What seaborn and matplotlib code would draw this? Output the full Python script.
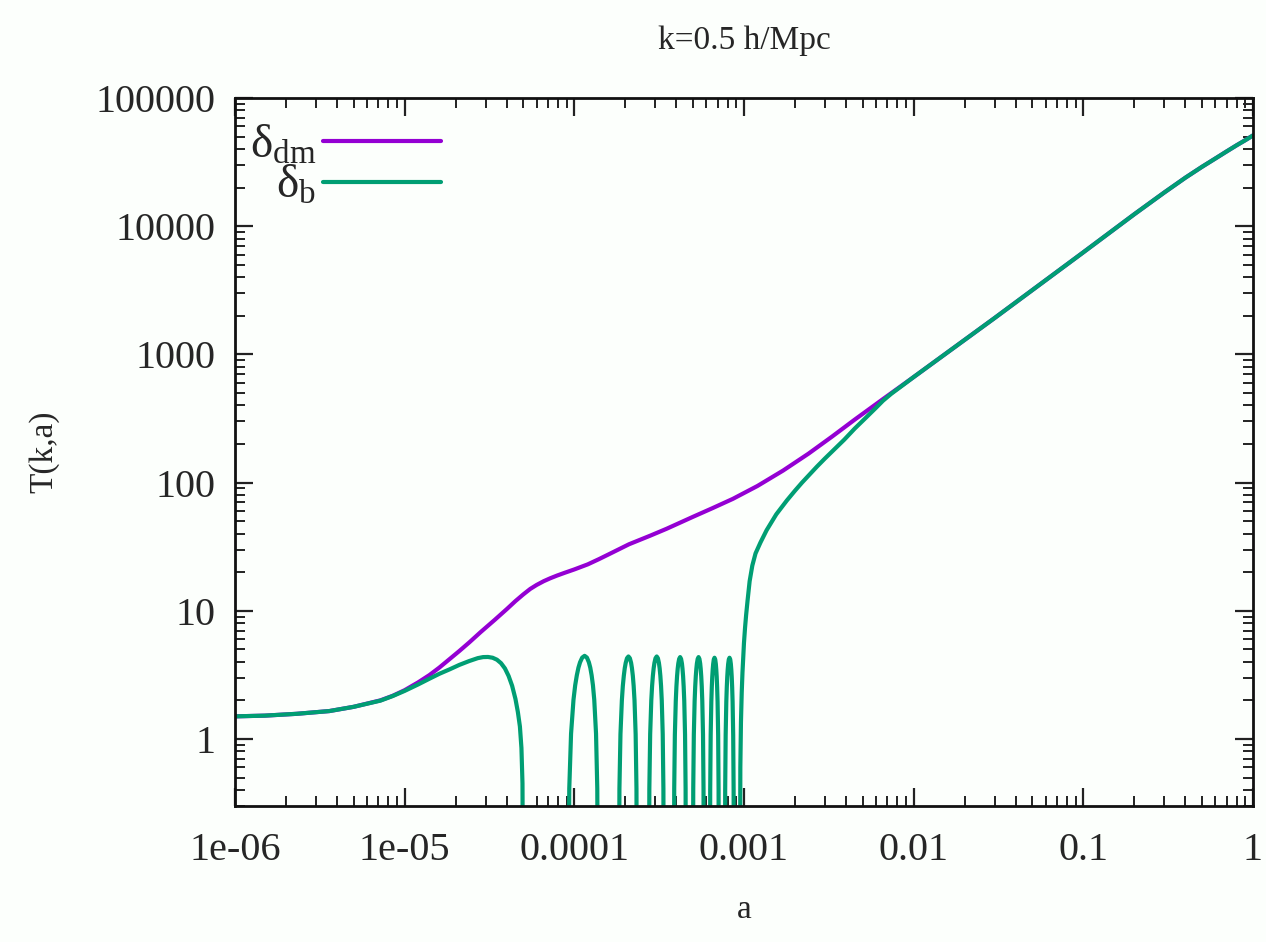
import numpy as np
import pandas as pd
import matplotlib
matplotlib.use("Agg")
import matplotlib.pyplot as plt
import seaborn as sns
from matplotlib.ticker import FixedLocator, FixedFormatter, LogLocator, NullFormatter

# ---------------- data ----------------
title = "k=0.5 h/Mpc"
x_label = "a"
y_label = "T(k,a)"
labels = [r"$\delta_{\rm dm}$", r"$\delta_{\rm b}$"]

x_ticks = [1e-6, 1e-5, 1e-4, 1e-3, 1e-2, 1e-1, 1.0]
x_tick_labels = ["1e-06", "1e-05", "0.0001", "0.001", "0.01", "0.1", "1"]
y_ticks = [1, 10, 100, 1000, 10000, 100000]
y_tick_labels = ["1", "10", "100", "1000", "10000", "100000"]

# dark matter
a_dm = [1e-6, 1.5e-6, 2.3e-6, 3.6e-6, 5e-6, 7.2e-6, 8.5e-6, 1.0e-5, 1.2e-5, 1.4e-5,
        1.6e-5, 1.85e-5, 2.1e-5, 2.4e-5, 2.8e-5, 3.4e-5, 4.0e-5, 4.5e-5, 5.0e-5, 5.5e-5,
        6.0e-5, 6.6e-5, 7.2e-5, 7.9e-5, 8.8e-5, 1.0e-4, 1.2e-4, 1.4e-4, 1.6e-4, 2.1e-4,
        2.8e-4, 3.5e-4, 5e-4, 6.5e-4, 8.6e-4, 1.2e-3, 1.7e-3, 2.4e-3, 3.3e-3, 4.5e-3,
        6.6e-3, 1e-2, 3e-2, 0.1, 0.2, 0.3, 0.4, 0.5, 0.6, 0.7, 0.8, 0.9, 1.0]
T_dm = [1.50, 1.52, 1.57, 1.65, 1.78, 2.0, 2.17, 2.4, 2.76, 3.15,
        3.6, 4.22, 4.85, 5.65, 6.8, 8.5, 10.3, 11.9, 13.4, 14.8,
        15.9, 17.0, 17.9, 18.8, 19.8, 21.0, 23.0, 25.3, 27.6, 33.0,
        38.5, 43.6, 54, 63, 74.6, 94, 124, 168, 228, 310,
        448, 665, 1920, 6250, 12400, 18300, 23900, 29000, 33700, 38300, 42700, 46800, 51000]

# baryons: early hump
a_b0 = [1e-6, 1.5e-6, 2.3e-6, 3.6e-6, 5e-6, 7.2e-6, 8.5e-6, 1.0e-5, 1.2e-5, 1.4e-5,
        1.6e-5, 1.85e-5, 2.1e-5, 2.4e-5, 2.7e-5, 2.9e-5, 3.1e-5, 3.3e-5, 3.5e-5, 3.7e-5,
        3.9e-5, 4.1e-5, 4.3e-5, 4.5e-5, 4.65e-5, 4.78e-5, 4.88e-5, 4.95e-5, 5.0e-5]
T_b0 = [1.50, 1.52, 1.57, 1.65, 1.78, 1.99, 2.16, 2.37, 2.66, 2.95,
        3.22, 3.5, 3.78, 4.05, 4.27, 4.35, 4.36, 4.3, 4.15, 3.9,
        3.55, 3.1, 2.6, 2.05, 1.62, 1.25, 0.85, 0.45, 0.02]

# baryons: acoustic oscillation arches (positive half-cycles)
a_b1 = [9.2e-5, 9.34e-5, 9.57e-5, 9.89e-5, 1.012e-4, 1.035e-4, 1.058e-4, 1.081e-4, 1.113e-4, 1.15e-4,
        1.187e-4, 1.219e-4, 1.242e-4, 1.265e-4, 1.288e-4, 1.311e-4, 1.343e-4, 1.366e-4, 1.38e-4]
T_b1 = [0.02, 0.41, 1.10, 2.02, 2.62, 3.14, 3.60, 3.96, 4.31, 4.45,
        4.31, 3.96, 3.60, 3.14, 2.62, 2.02, 1.10, 0.41, 0.02]
a_b2 = [1.83e-4, 1.845e-4, 1.871e-4, 1.907e-4, 1.932e-4, 1.958e-4, 1.983e-4, 2.009e-4, 2.044e-4, 2.085e-4,
        2.126e-4, 2.162e-4, 2.187e-4, 2.213e-4, 2.238e-4, 2.264e-4, 2.299e-4, 2.325e-4, 2.34e-4]
T_b2 = [0.02, 0.41, 1.09, 2.0, 2.59, 3.11, 3.56, 3.92, 4.26, 4.4,
        4.26, 3.92, 3.56, 3.11, 2.59, 2.0, 1.09, 0.41, 0.02]
a_b3 = [2.75e-4, 2.769e-4, 2.8e-4, 2.843e-4, 2.874e-4, 2.905e-4, 2.936e-4, 2.967e-4, 3.01e-4, 3.06e-4,
        3.11e-4, 3.153e-4, 3.184e-4, 3.215e-4, 3.246e-4, 3.277e-4, 3.32e-4, 3.351e-4, 3.37e-4]
T_b3 = [0.02, 0.41, 1.09, 2.0, 2.59, 3.11, 3.56, 3.92, 4.26, 4.4,
        4.26, 3.92, 3.56, 3.11, 2.59, 2.0, 1.09, 0.41, 0.02]
a_b4 = [3.86e-4, 3.881e-4, 3.915e-4, 3.964e-4, 3.998e-4, 4.033e-4, 4.067e-4, 4.102e-4, 4.15e-4, 4.205e-4,
        4.26e-4, 4.309e-4, 4.343e-4, 4.378e-4, 4.412e-4, 4.447e-4, 4.495e-4, 4.529e-4, 4.55e-4]
T_b4 = [0.02, 0.41, 1.08, 1.98, 2.56, 3.08, 3.52, 3.88, 4.21, 4.35,
        4.21, 3.88, 3.52, 3.08, 2.56, 1.98, 1.08, 0.41, 0.02]
a_b5 = [5.0e-4, 5.024e-4, 5.064e-4, 5.12e-4, 5.16e-4, 5.2e-4, 5.24e-4, 5.28e-4, 5.336e-4, 5.4e-4,
        5.464e-4, 5.52e-4, 5.56e-4, 5.6e-4, 5.64e-4, 5.68e-4, 5.736e-4, 5.776e-4, 5.8e-4]
T_b5 = [0.02, 0.41, 1.08, 1.98, 2.56, 3.08, 3.52, 3.88, 4.21, 4.35,
        4.21, 3.88, 3.52, 3.08, 2.56, 1.98, 1.08, 0.41, 0.02]
a_b6 = [6.3e-4, 6.324e-4, 6.365e-4, 6.422e-4, 6.462e-4, 6.503e-4, 6.543e-4, 6.584e-4, 6.64e-4, 6.705e-4,
        6.77e-4, 6.827e-4, 6.867e-4, 6.908e-4, 6.948e-4, 6.989e-4, 7.045e-4, 7.086e-4, 7.11e-4]
T_b6 = [0.02, 0.40, 1.07, 1.96, 2.53, 3.05, 3.48, 3.84, 4.17, 4.3,
        4.17, 3.84, 3.48, 3.05, 2.53, 1.96, 1.07, 0.40, 0.02]
a_b7 = [7.72e-4, 7.75e-4, 7.8e-4, 7.87e-4, 7.92e-4, 7.97e-4, 8.02e-4, 8.07e-4, 8.14e-4, 8.22e-4,
        8.3e-4, 8.37e-4, 8.42e-4, 8.47e-4, 8.52e-4, 8.57e-4, 8.64e-4, 8.69e-4, 8.72e-4]
T_b7 = [0.02, 0.40, 1.07, 1.96, 2.53, 3.05, 3.48, 3.84, 4.17, 4.3,
        4.17, 3.84, 3.48, 3.05, 2.53, 1.96, 1.07, 0.40, 0.02]

# baryons: after decoupling, catching up with dark matter
a_b8 = [9.46e-4, 9.52e-4, 9.6e-4, 9.7e-4, 9.8e-4, 9.9e-4, 1.0e-3, 1.015e-3, 1.03e-3, 1.05e-3,
        1.08e-3, 1.12e-3, 1.17e-3, 1.25e-3, 1.36e-3, 1.55e-3, 1.79e-3, 2.0e-3, 2.2e-3, 2.69e-3,
        3.0e-3, 3.4e-3, 3.9e-3, 4.5e-3, 5.2e-3, 6.0e-3, 6.6e-3, 7.4e-3, 8.5e-3, 1e-2,
        3e-2, 0.1, 0.2, 0.3, 0.4, 0.5, 0.6, 0.7, 0.8, 0.9, 1.0]
T_b8 = [0.02, 0.6, 1.35, 2.3, 3.3, 4.3, 5.6, 7.4, 9.3, 12.0,
        17.0, 22.5, 28, 34, 42.5, 56.5, 72.5, 86.5, 100, 133,
        154, 181, 216, 264, 318, 383, 435, 494, 566, 665,
        1920, 6250, 12400, 18300, 23900, 29000, 33700, 38300, 42700, 46800, 51000]

baryon_segments = [(a_b0, T_b0), (a_b1, T_b1), (a_b2, T_b2), (a_b3, T_b3), (a_b4, T_b4),
                   (a_b5, T_b5), (a_b6, T_b6), (a_b7, T_b7), (a_b8, T_b8)]

# ---------------- style ----------------
sns.set_theme(style="ticks")
plt.rcParams["font.family"] = ["Liberation Serif", "DejaVu Serif"]
plt.rcParams["mathtext.fontset"] = "custom"
plt.rcParams["mathtext.rm"] = "Liberation Serif"
plt.rcParams["mathtext.it"] = "Liberation Serif:italic"
plt.rcParams["mathtext.default"] = "regular"

purple = "#9400d3"
green = "#009e73"
lw = 3.0
bg = "#fcfffc"

fig = plt.figure(figsize=(12.66, 9.42), dpi=100, facecolor=bg)
ax = fig.add_axes([0.1856, 0.1444, 0.8041, 0.7516])
ax.set_facecolor(bg)
ax.set_xscale("log")
ax.set_yscale("log")

sns.lineplot(x=a_dm, y=T_dm, color=purple, lw=lw, ax=ax, estimator=None, sort=False,
             label=labels[0])
for i, (xa, yt) in enumerate(baryon_segments):
    sns.lineplot(x=xa, y=yt, color=green, lw=lw, ax=ax, estimator=None, sort=False,
                 label=labels[1] if i == 0 else None)

ax.set_xlim(1e-6, 1.0)
ax.set_ylim(0.3, 100000)

ax.xaxis.set_major_locator(FixedLocator(x_ticks))
ax.xaxis.set_major_formatter(FixedFormatter(x_tick_labels))
ax.yaxis.set_major_locator(FixedLocator(y_ticks))
ax.yaxis.set_major_formatter(FixedFormatter(y_tick_labels))
ax.xaxis.set_minor_locator(LogLocator(base=10, subs=np.arange(2, 10), numticks=20))
ax.yaxis.set_minor_locator(LogLocator(base=10, subs=np.arange(2, 10), numticks=20))
ax.xaxis.set_minor_formatter(NullFormatter())
ax.yaxis.set_minor_formatter(NullFormatter())

ax.tick_params(which="both", direction="in", top=True, right=True, color="#222222")
ax.tick_params(which="major", length=13, width=1.6, labelsize=29, pad=19)
ax.tick_params(which="minor", length=7, width=1.4)
ax.tick_params(axis="y", which="major", pad=14)
for s in ax.spines.values():
    s.set_linewidth(2.0)
    s.set_color("#111111")

ax.set_xlabel(x_label, fontsize=24, labelpad=18)
ax.set_ylabel(y_label, fontsize=24, labelpad=26)
fig.text(0.588, 0.957, title, fontsize=24, ha="center", va="center")

leg = ax.legend(loc="upper left", bbox_to_anchor=(-0.018, 1.01), frameon=False, markerfirst=False,
                fontsize=34, handlelength=2.5, handletextpad=0.15, labelspacing=-0.05,
                borderaxespad=0.3)

fig.savefig("out.png", dpi=100, facecolor=bg)
